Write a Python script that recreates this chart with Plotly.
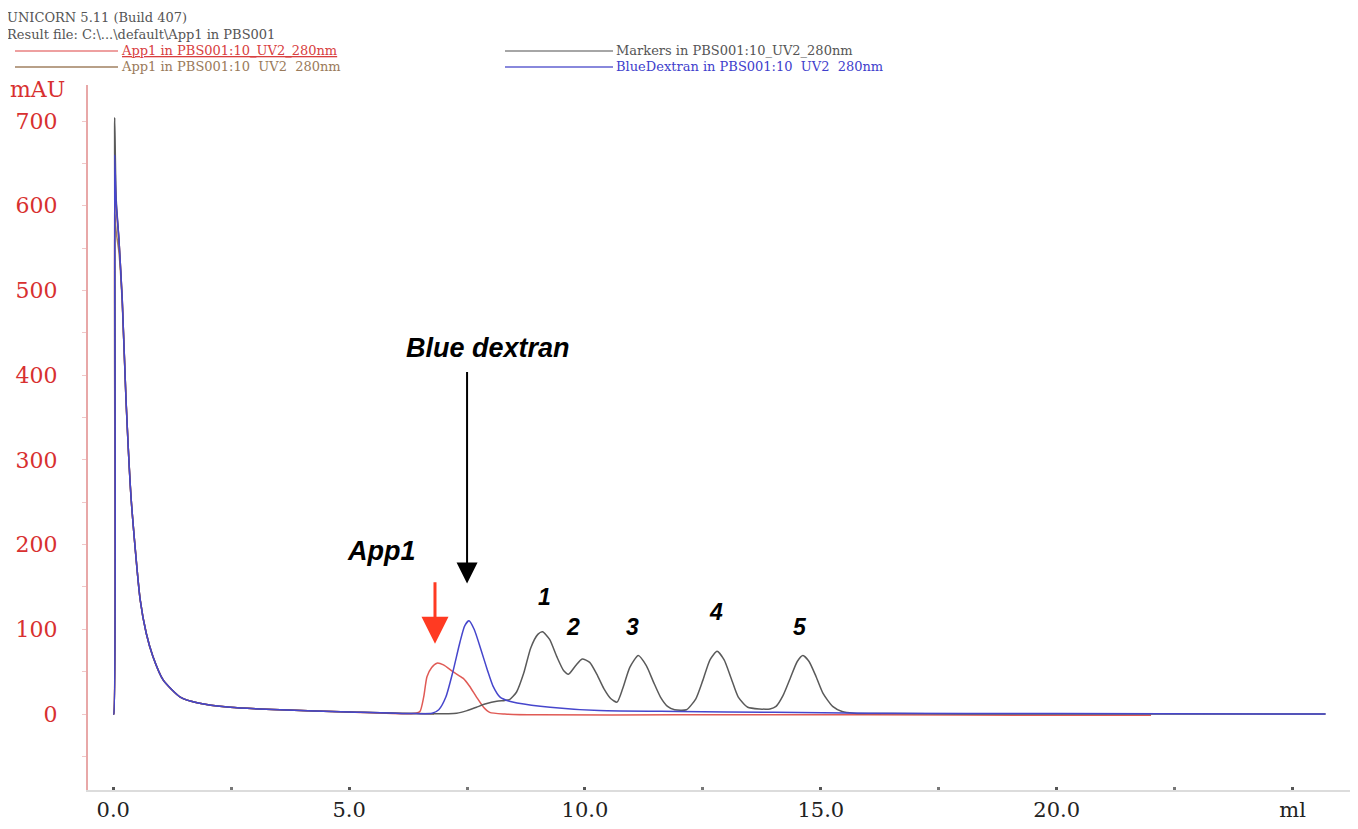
import plotly.graph_objects as go

# ---------------- data ----------------
# shared early part (injection spike + decay), ml
decay_x = [0.0, 0.01, 0.03, 0.06, 0.12, 0.19, 0.27, 0.38, 0.57, 0.7, 0.84, 1.06, 1.42, 1.8, 2.48, 3.54, 5.0, 6.36]
red_decay_y = [0, 0, 640, 600, 560, 489, 371, 253, 135, 95, 68, 40, 20, 13, 8, 5, 2.5, 0.5]
brown_decay_y = [0, 0, 590, 570, 545, 485, 370, 253, 135, 95, 68, 40, 20, 13, 8, 5, 2.5, 0.5]
gray_decay_y = [0, 0, 704, 610, 560, 489, 371, 253, 135, 95, 68, 40, 20, 13, 8, 5, 2.5, 0.5]
blue_decay_y = [0, 0, 660, 605, 560, 489, 371, 253, 135, 95, 68, 40, 20, 13, 8, 5, 2.5, 0.5]

# App1 (red)
app1_x = [6.5, 6.58, 6.65, 6.75, 6.86, 7.0, 7.2, 7.42, 7.55, 7.7, 7.85, 7.98, 8.3, 9.0, 12.0, 16.0, 20.0, 22.0]
app1_y = [3, 20, 44, 55, 60, 58, 50, 42, 33, 20, 8, 2, 0, -1, -1, -1, -1.5, -1.5]

# App1 (brown) – end of run
app1b_x = [6.8]
app1b_y = [0]

# Markers (gray)
markers_x = [7.28, 7.5, 7.7, 7.9, 8.13, 8.3, 8.4, 8.55, 8.7, 8.85, 9.0, 9.1, 9.25, 9.4, 9.55, 9.65,
             9.8, 9.94, 10.1, 10.25, 10.4, 10.55, 10.68, 10.8, 10.95, 11.13, 11.3, 11.45, 11.6, 11.75,
             11.9, 12.15, 12.35, 12.5, 12.65, 12.8, 12.95, 13.1, 13.25, 13.45, 13.7, 13.92, 14.05,
             14.2, 14.35, 14.5, 14.62, 14.75, 14.9, 15.05, 15.25, 15.45, 15.7, 16.5, 18.0, 20.0, 22.0, 24.0, 25.7]
markers_y = [1, 4, 8, 12, 15, 16, 17, 26, 48, 78, 94, 97, 88, 68, 51, 47,
             57, 65, 61, 47, 30, 18, 14, 30, 55, 69, 57, 38, 20, 9,
             5, 5, 18, 40, 64, 74, 64, 42, 20, 8, 6, 6, 9,
             22, 42, 62, 69, 62, 44, 24, 9, 3, 1, 0.5, 0, 0, 0, 0, 0]

# Blue dextran (blue)
blued_x = [6.76, 6.9, 7.05, 7.2, 7.35, 7.45, 7.54, 7.65, 7.8, 7.93, 8.05, 8.2, 8.4, 8.56, 9.26,
           10.3, 12.0, 14.0, 16.0, 20.0, 25.7]
blued_y = [1, 5, 20, 50, 85, 104, 110, 100, 75, 52, 33, 20, 15, 13, 8, 4, 3, 2, 1, 0.5, 0]

# axis ticks
x_tickvals = [0, 5, 10, 15, 20, 25]
x_ticktext = ["0.0", "5.0", "10.0", "15.0", "20.0", "ml"]
y_tickvals = [0, 100, 200, 300, 400, 500, 600, 700]

# peak labels
peak_labels = ["1", "2", "3", "4", "5"]
peak_label_x = [9.15, 9.75, 11.0, 12.78, 14.55]
peak_label_y = [138, 103, 103, 121, 103]

# ---------------- figure ----------------
RED = "#e05a55"
BROWN = "#a8805e"
GRAY = "#5a5a5a"
BLUE = "#4646cc"

fig = go.Figure()

def add(x, y, color, name):
    fig.add_trace(go.Scatter(x=x, y=y, mode="lines", name=name,
                             line=dict(color=color, width=1.5, shape="spline", smoothing=0.6),
                             hoverinfo="skip"))

add(decay_x + app1b_x, brown_decay_y + app1b_y, BROWN, "App1 in PBS001:10 UV2 280nm")
add(decay_x + app1_x, red_decay_y + app1_y, RED, "App1 in PBS001:10_UV2_280nm")
add(decay_x + markers_x, gray_decay_y + markers_y, GRAY, "Markers in PBS001:10_UV2_280nm")
add(decay_x + blued_x, blue_decay_y + blued_y, BLUE, "BlueDextran in PBS001:10 UV2 280nm")

OFF = 8  # page body margin
W, H = 1350, 821
L, R, T, B = 80, 8, 77, 39
PW, PH = W - L - R, H - T - B

def px(xp):  # page pixel -> paper x
    return (xp - OFF - L) / PW

def py(yp):  # page pixel -> paper y
    return (H - B - (yp - OFF)) / PH

SERIF = "DejaVu Serif"
SANS = "Liberation Sans"

annotations = []
# header
for t, yy in [("UNICORN 5.11 (Build 407)", 18), ("Result file: C:\\...\\default\\App1 in PBS001", 34)]:
    annotations.append(dict(text=t, x=px(6), y=py(yy), xref="paper", yref="paper",
                            xanchor="left", yanchor="middle", showarrow=False, borderpad=0,
                            font=dict(family=SERIF, size=13, color="#555555")))
# legend texts
leg = [
    ("<u>App1 in PBS001:10_UV2_280nm</u>", 120, 51, "#d84040"),
    ("App1 in PBS001:10  UV2  280nm", 120, 67, "#9a7a5a"),
    ("Markers in PBS001:10_UV2_280nm", 615, 51, "#555555"),
    ("BlueDextran in PBS001:10  UV2  280nm", 615, 67, "#4040cc"),
]
for t, xx, yy, c in leg:
    annotations.append(dict(text=t, x=px(xx), y=py(yy), xref="paper", yref="paper",
                            xanchor="left", yanchor="middle", showarrow=False, borderpad=0,
                            font=dict(family=SERIF, size=13, color=c)))
# mAU
annotations.append(dict(text="mAU", x=px(8), y=py(89), xref="paper", yref="paper",
                        xanchor="left", yanchor="middle", showarrow=False,
                        font=dict(family=SERIF, size=22, color="#d83030")))

# text labels
annotations.append(dict(text="<b><i>Blue dextran</i></b>", x=7.95, y=432, xref="x", yref="y",
                        showarrow=False, font=dict(family=SANS, size=27, color="black")))
annotations.append(dict(text="<b><i>App1</i></b>", x=5.68, y=192, xref="x", yref="y",
                        showarrow=False, font=dict(family=SANS, size=27, color="black")))
for t, xx, yy in zip(peak_labels, peak_label_x, peak_label_y):
    annotations.append(dict(text="<b><i>" + t + "</i></b>", x=xx, y=yy, xref="x", yref="y",
                            showarrow=False, font=dict(family=SANS, size=23, color="black")))

# arrows
annotations.append(dict(text="", x=7.5, y=154, xref="x", yref="y", ax=0, ay=-213,
                        showarrow=True, arrowhead=2, arrowsize=2.1, arrowwidth=2, arrowcolor="black"))
annotations.append(dict(text="", x=6.82, y=83, xref="x", yref="y", ax=0, ay=-63,
                        showarrow=True, arrowhead=2, arrowsize=1.8, arrowwidth=3, arrowcolor="#ff3a22"))

shapes = []
for x0, x1, yy, c in [(15, 118, 51, "#e88080"), (15, 118, 67, "#a08060"),
                      (505, 613, 51, "#888888"), (505, 613, 67, "#6060d0")]:
    shapes.append(dict(type="line", xref="paper", yref="paper", x0=px(x0), x1=px(x1),
                       y0=py(yy), y1=py(yy), line=dict(color=c, width=1.3)))

fig.update_layout(
    width=W, height=H,
    margin=dict(l=L, r=R, t=T, b=B, autoexpand=False),
    paper_bgcolor="white", plot_bgcolor="white",
    showlegend=False,
    annotations=annotations,
    shapes=shapes,
    xaxis=dict(range=[-0.536, 26.218], showgrid=False, zeroline=False, automargin=False,
               showline=True, linecolor="#dcdcdc", linewidth=2,
               tickvals=x_tickvals, ticktext=x_ticktext,
               ticks="inside", ticklen=3, tickwidth=3, tickcolor="#555555",
               minor=dict(dtick=2.5, tick0=0, ticks="inside", ticklen=3, tickwidth=3, tickcolor="#777777"),
               tickfont=dict(family=SERIF, size=21, color="#222222")),
    yaxis=dict(range=[-89.7, 742.5], showgrid=False, zeroline=False, automargin=False,
               showline=True, linecolor="#e8a8a8", linewidth=2,
               tickvals=y_tickvals, ticks="outside", ticklen=4, tickwidth=1, tickcolor="#f0c8c8",
               minor=dict(dtick=50, tick0=0, ticks="outside", ticklen=4, tickwidth=1, tickcolor="#f0c8c8"),
               ticklabelstandoff=20,
               tickfont=dict(family=SERIF, size=22, color="#d83030")),
)

fig.write_html("out.html")
